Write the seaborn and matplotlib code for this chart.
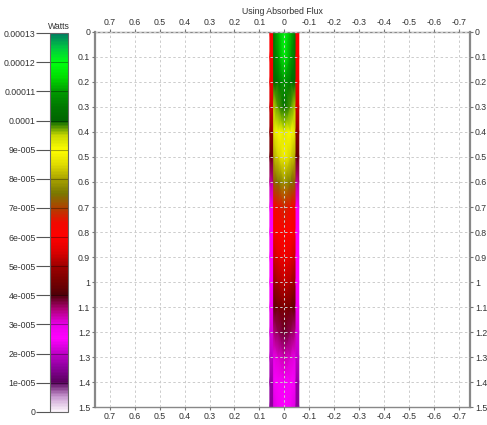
import numpy as np
import matplotlib
matplotlib.use("Agg")
import matplotlib.pyplot as plt
import seaborn as sns
from matplotlib.colors import LinearSegmentedColormap

# ---- data ----
y_levels = [0.0, 0.1, 0.2, 0.3, 0.4, 0.5, 0.6, 0.7, 0.8, 0.9, 1.0, 1.1, 1.2, 1.3, 1.4, 1.5]
flux_center = [1.20e-4, 1.18e-4, 1.10e-4, 1.02e-4, 9.2e-5, 8.8e-5, 7.9e-5, 6.8e-5,
               6.1e-5, 5.8e-5, 5.3e-5, 4.6e-5, 3.9e-5, 3.3e-5, 2.7e-5, 2.5e-5]
flux_mid = [1.12e-4, 1.10e-4, 1.04e-4, 9.8e-5, 8.9e-5, 8.4e-5, 7.5e-5, 6.5e-5,
            6.0e-5, 5.6e-5, 5.1e-5, 4.4e-5, 3.7e-5, 3.1e-5, 2.6e-5, 2.4e-5]
flux_inner = [1.03e-4, 1.02e-4, 1.00e-4, 9.4e-5, 8.5e-5, 8.0e-5, 7.2e-5, 6.2e-5,
              5.8e-5, 5.3e-5, 4.8e-5, 4.2e-5, 3.5e-5, 2.9e-5, 2.4e-5, 2.2e-5]
flux_edge = [6.0e-5, 6.0e-5, 5.8e-5, 5.4e-5, 4.8e-5, 4.3e-5, 3.4e-5, 2.7e-5,
             2.6e-5, 2.5e-5, 2.5e-5, 2.4e-5, 2.2e-5, 2.0e-5, 1.6e-5, 1.5e-5]
edge_x_left = [-0.058, -0.047]
edge_x_right = [0.047, 0.058]
core_x = [-0.047, -0.025, 0.0, 0.025, 0.047]

x_ticks = [0.7, 0.6, 0.5, 0.4, 0.3, 0.2, 0.1, 0, -0.1, -0.2, -0.3, -0.4, -0.5, -0.6, -0.7]
y_ticks = [0, 0.1, 0.2, 0.3, 0.4, 0.5, 0.6, 0.7, 0.8, 0.9, 1, 1.1, 1.2, 1.3, 1.4, 1.5]
cbar_ticks = [0, 1e-5, 2e-5, 3e-5, 4e-5, 5e-5, 6e-5, 7e-5, 8e-5, 9e-5, 1e-4, 1.1e-4, 1.2e-4, 1.3e-4]
cbar_labels = ["0", "1e-005", "2e-005", "3e-005", "4e-005", "5e-005", "6e-005", "7e-005",
               "8e-005", "9e-005", "0.0001", "0.00011", "0.00012", "0.00013"]

cmap_values = [0, 0.5e-5, 1e-5, 1.5e-5, 2e-5, 2.5e-5, 3e-5, 3.5e-5, 4e-5, 4.5e-5, 5e-5,
               5.5e-5, 6e-5, 6.5e-5, 7e-5, 7.5e-5, 8e-5, 8.5e-5, 9e-5, 9.5e-5, 1e-4,
               1.05e-4, 1.1e-4, 1.15e-4, 1.2e-4, 1.25e-4, 1.3e-4]
cmap_colors = ["#fbf3fb", "#c89ad0", "#5a005e", "#8c009c", "#c000c8", "#ff00ff", "#e800e8",
               "#b0007a", "#500008", "#780000", "#a00000", "#dc0000", "#ff0000", "#f00a00",
               "#b04000", "#7a7800", "#a8a200", "#e0dc00", "#ffff00", "#c8d800", "#006400",
               "#007800", "#009a00", "#00dc00", "#00ff10", "#00c840", "#008060"]

# ---- style ----
sns.set_theme(style="whitegrid")
plt.rcParams["font.family"] = ["Liberation Sans", "DejaVu Sans"]
FS = 6.3

vmax = cmap_values[-1]
cmap = LinearSegmentedColormap.from_list(
    "flux", list(zip([v / vmax for v in cmap_values], cmap_colors)))

fig = plt.figure(figsize=(4.87, 4.25), dpi=100)
ax = fig.add_axes([0.195, 0.042, 0.77, 0.883])
cax = fig.add_axes([0.103, 0.031, 0.037, 0.891])

# heat strip: core with smooth shading, plus the two edge bands
core = np.array([flux_inner, flux_mid, flux_center, flux_mid, flux_inner]).T
Xc, Yc = np.meshgrid(core_x, y_levels)
mesh = ax.pcolormesh(Xc, Yc, core, cmap=cmap, vmin=0, vmax=vmax,
                     shading="gouraud", zorder=1, antialiased=False)
edge = np.array([flux_edge, flux_edge]).T
for ex in (edge_x_left, edge_x_right):
    Xe, Ye = np.meshgrid(ex, y_levels)
    ax.pcolormesh(Xe, Ye, edge, cmap=cmap, vmin=0, vmax=vmax,
                  shading="gouraud", zorder=1, antialiased=False)

ax.set_xlim(0.76, -0.745)
ax.set_ylim(1.5, 0)
ax.set_xticks(x_ticks)
ax.set_xticklabels(["%g" % t for t in x_ticks])
ax.set_yticks(y_ticks)
ax.set_yticklabels(["%g" % t for t in y_ticks])
ax.tick_params(axis="both", labelsize=FS, labelcolor="#333333", color="#777777",
               length=2.5, width=0.8,
               top=True, bottom=True, left=True, right=True,
               labeltop=True, labelbottom=True, labelleft=True, labelright=True, pad=1)
ax.grid(True, color="#cccccc", linestyle=(0, (2.5, 2.5)), linewidth=0.7)
ax.set_axisbelow(False)
for g in ax.get_xgridlines() + ax.get_ygridlines():
    g.set_zorder(2)
for name, sp in ax.spines.items():
    sp.set_visible(True)
    sp.set_color("#888888")
    sp.set_linewidth(1.6 if name in ("left", "right") else 1.0)
ax.set_title("Using Absorbed Flux", fontsize=FS, pad=13, color="#333333")

# colorbar
cb = fig.colorbar(mesh, cax=cax)
cb.set_ticks(cbar_ticks)
cb.set_ticklabels(cbar_labels)
cax.yaxis.set_ticks_position("left")
cax.tick_params(labelsize=FS, length=10, width=0.8, color="#555555", labelcolor="#333333", pad=0.5)
for t in cbar_ticks[1:-1]:
    cax.axhline(t, color="#000000", alpha=0.35, lw=0.8)
cb.outline.set_edgecolor("#666666")
cb.outline.set_linewidth(0.8)
cax.set_title("Watts", fontsize=FS, pad=3, color="#333333")
cax.grid(False)

fig.savefig("out.png", dpi=100)
